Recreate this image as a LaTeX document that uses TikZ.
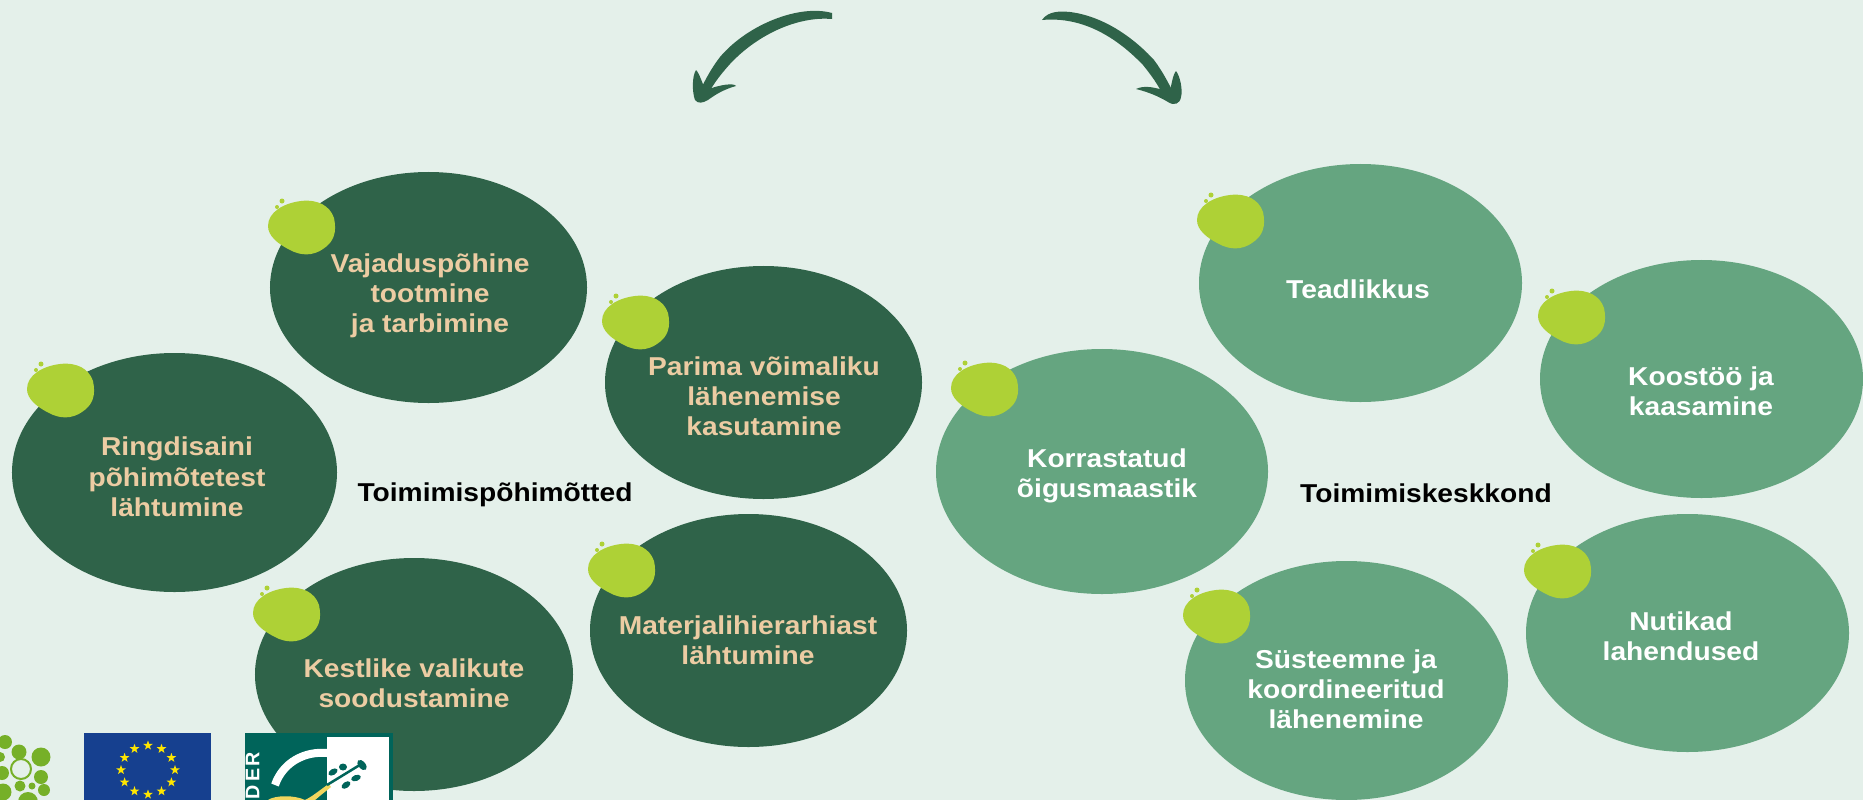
\documentclass[tikz,border=0pt]{standalone}
\usepackage{fontspec}
\setmainfont{Liberation Sans}
\newfontfamily\podfont[FakeStretch=1.09]{Liberation Sans}
\usetikzlibrary{shapes.geometric}
\definecolor{bgc}{HTML}{E4F0EA}
\definecolor{darkg}{HTML}{2F6349}
\definecolor{lightg}{HTML}{65A580}
\definecolor{blobg}{HTML}{AED136}
\definecolor{tan}{HTML}{ECCCA3}
\definecolor{eublue}{HTML}{16408F}
\definecolor{eustar}{HTML}{FFE600}
\definecolor{leaderteal}{HTML}{00645A}
\definecolor{logog}{HTML}{76B028}
\definecolor{swoosh}{HTML}{F2D65E}
\tikzset{
  x=0.01cm,y=-0.01cm,
  pod/.style={ellipse,inner sep=0pt,draw=none},
  darkpod/.style={pod,fill=darkg},
  lightpod/.style={pod,fill=lightg},
  podtext/.style={inner sep=0pt,align=center,font=\podfont\fontsize{7.35}{8.6}\selectfont\bfseries},
  tantext/.style={podtext,text=tan},
  whitetext/.style={podtext,text=white},
  heading/.style={podtext,text=black},
  logodot/.style={fill=logog,draw=none},
  arrowfill/.style={fill=darkg,draw=none},
  logoletter/.style={rotate=90,inner sep=0pt,text=white,font=\fontsize{5.6}{6}\selectfont\bfseries},
}
% #1 name, #2 style, #3 left, #4 right, #5 top, #6 bottom
\newcommand{\podshape}[6]{%
  \pgfmathsetmacro{\pw}{(#4-#3)*0.01}\pgfmathsetmacro{\ph}{(#6-#5)*0.01}%
  \node[#2,minimum width=\pw cm,minimum height=\ph cm] (#1) at ({(#3+#4)/2},{(#5+#6)/2}) {};}
% blob at top-left corner
\newcommand{\blobat}[2]{%
  \begin{scope}[shift={(#1,#2)}]
    \fill[blobg] (33,1) .. controls (50,-1) and (62,6) .. (66,18) .. controls (69,32) and (66,42) .. (55,49)
      .. controls (45,56) and (33,56) .. (22,50) .. controls (10,44) and (0,36) .. (0,26) .. controls (0,12) and (16,3) .. (33,1) -- cycle;
    \fill[blobg] (14,1) circle[radius=2.5] (9,7) circle[radius=2];
  \end{scope}}
\begin{document}
\begin{tikzpicture}
\path[use as bounding box] (0,0) rectangle (1863,800);
\clip (0,0) rectangle (1863,800);
\fill[bgc] (0,0) rectangle (1863,800);

% arrows
\fill[arrowfill] (832,13) .. controls (800,4) and (748,24) .. (720,57) .. controls (710,70) and (703,84) .. (697,97)
  -- (708,94) .. controls (714,83) and (721,74) .. (730,64) .. controls (756,36) and (796,16) .. (832,19) -- cycle;
\fill[arrowfill] (696,70) .. controls (692,76) and (692,92) .. (695,100) .. controls (698,104) and (703,103) .. (708,100)
  .. controls (716,94) and (725,89) .. (736,86) .. controls (734,83) and (722,84) .. (706,90) .. controls (702,84) and (700,74) .. (696,70) -- cycle;

\fill[arrowfill] (1042,20) .. controls (1048,11) and (1060,11) .. (1070,12) .. controls (1102,16) and (1132,36) .. (1154,60) .. controls (1163,72) and (1169,84) .. (1175,96)
  -- (1163,95) .. controls (1157,83) and (1151,75) .. (1143,65) .. controls (1119,40) and (1085,16) .. (1042,20) -- cycle;
\fill[arrowfill] (1176,71) .. controls (1180,76) and (1183,90) .. (1181,97) .. controls (1180,104) and (1174,106) .. (1168,102)
  .. controls (1158,96) and (1148,92) .. (1136,89) .. controls (1144,85) and (1155,87) .. (1169,92) .. controls (1172,86) and (1172,76) .. (1176,71) -- cycle;

% logos
\fill[logodot] (5,742) circle[radius=7] (19,752) circle[radius=7.5] (41,757) circle[radius=9.5]
 (0,757) circle[radius=5] (41,777) circle[radius=7] (2,773) circle[radius=7]
 (20,786) circle[radius=5.5] (32,786) circle[radius=3.5] (44,790) circle[radius=6]
 (3,792) circle[radius=8.5] (28,802) circle[radius=10];
\draw[logog,line width=0.02cm] (21,769) circle[radius=10];

\fill[eublue] (84,733) rectangle (211,800);
\foreach \a in {0,30,...,330}{
  \begin{scope}[shift={({148+27*cos(\a)},{770+24.5*sin(\a)})}]
    \fill[eustar] (-90:5) -- (-54:2) -- (-18:5) -- (18:2) -- (54:5) -- (90:2) -- (126:5) -- (162:2) -- (198:5) -- (234:2) -- cycle;
  \end{scope}}

% pods
\podshape{p1}{darkpod}{270}{587}{172}{403}
\podshape{p2}{darkpod}{12}{337}{353}{592}
\podshape{p3}{darkpod}{605}{922}{266}{499}
\podshape{p4}{darkpod}{255}{573}{558}{791}
\podshape{p5}{darkpod}{590}{907}{514}{747}
\podshape{q1}{lightpod}{1199}{1522}{164}{402}
\podshape{q2}{lightpod}{1540}{1863}{260}{498}
\podshape{q3}{lightpod}{936}{1268}{349}{594}
\podshape{q4}{lightpod}{1185}{1508}{561}{800}
\podshape{q5}{lightpod}{1526}{1849}{514}{752}

% LEADER logo
\fill[leaderteal] (245,733) rectangle (393,800);
\fill[white] (327,737) rectangle (389,800);
\draw[white,line width=0.08cm] (275,785) .. controls (283,762) and (305,751) .. (327,753);
\fill[swoosh] (268,800) .. controls (275,795) and (295,795) .. (305,800) .. controls (315,795) and (322,788) .. (329,784) -- (331,787) .. controls (325,792) and (318,797) .. (312,803) -- cycle;
\draw[leaderteal,line width=0.025cm] (327,785) -- (363,763);
\fill[leaderteal] (333,772) circle[x radius=5,y radius=3,rotate=30]
  (343,767) circle[x radius=4,y radius=3.5]
  (362,765) circle[x radius=6,y radius=3.5,rotate=-50]
  (356,778) circle[x radius=5,y radius=3,rotate=20]
  (346,785) circle[x radius=5,y radius=3,rotate=35];
\node[logoletter] (letterD) at (252.5,792.5) {D};
\node[logoletter] (letterE) at (252.5,775) {E};
\node[logoletter] (letterR) at (252.5,759.5) {R};

% blobs
\blobat{268}{200}\blobat{27}{363}\blobat{602}{295}\blobat{253}{587}\blobat{588}{543}
\blobat{1197}{194}\blobat{1538}{290}\blobat{951}{362}\blobat{1183}{589}\blobat{1524}{544}

% texts
\node[tantext] (t1) at (430,296) {Vajaduspõhine\\tootmine\\ja tarbimine};
\node[tantext] (t2) at (177,477) {Ringdisaini\\põhimõtetest\\lähtumine};
\node[tantext] (t3) at (764,396) {Parima võimaliku\\lähenemise\\kasutamine};
\node[tantext] (t4) at (414,683) {Kestlike valikute\\soodustamine};
\node[tantext] (t5) at (748,640) {Materjalihierarhiast\\lähtumine};
\node[whitetext] (u1) at (1358,289) {Teadlikkus};
\node[whitetext] (u2) at (1701,391) {Koostöö ja\\kaasamine};
\node[whitetext] (u3) at (1107,476) {Korrastatud\\õigusmaastik};
\node[whitetext] (u4) at (1346,689) {Süsteemne ja\\koordineeritud\\lähenemine};
\node[whitetext] (u5) at (1681,636) {Nutikad\\lahendused};
\node[heading] (h1) at (495,495) {Toimimispõhimõtted};
\node[heading] (h2) at (1426,493) {Toimimiskeskkond};
\end{tikzpicture}
\end{document}
